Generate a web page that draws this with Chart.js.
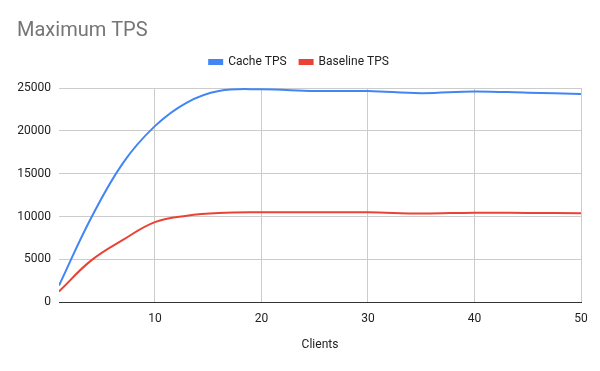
<!DOCTYPE html>
<html>
<head>
<meta charset="utf-8">
<script src="https://cdn.jsdelivr.net/npm/chart.js@4"></script>
<style>
    html, body { margin: 0; padding: 0; background: #fff; }
    #wrap { width: 600px; height: 371px; }
</style>
</head>
<body>
<div id="wrap"><canvas id="tpsChart" width="600" height="371"></canvas></div>
<script>
const clients = [1, 4, 7, 10, 13, 16, 20, 25, 30, 35, 40, 45, 50];
const cacheTps = [1950, 9800, 16240, 20550, 23300, 24650, 24850, 24650, 24650, 24400, 24600, 24450, 24300];
const baselineTps = [1250, 4850, 7270, 9350, 10100, 10420, 10500, 10500, 10500, 10350, 10450, 10420, 10380];
const xTicks = [10, 20, 30, 40, 50];
const yTicks = [0, 5000, 10000, 15000, 20000, 25000];

const font = 'Roboto, Arial, sans-serif';

const toPoints = (values) => values.map((v, i) => ({ x: clients[i], y: v }));

document.addEventListener('DOMContentLoaded', () => {
    const ctx = document.getElementById('tpsChart');

    new Chart(ctx, {
        type: 'line',
        data: {
            datasets: [{
                label: 'Cache TPS',
                data: toPoints(cacheTps),
                borderColor: '#4285f4',
                backgroundColor: '#4285f4',
                borderWidth: 2,
                pointRadius: 0,
                tension: 0.4
            }, {
                label: 'Baseline TPS',
                data: toPoints(baselineTps),
                borderColor: '#ea4335',
                backgroundColor: '#ea4335',
                borderWidth: 2,
                pointRadius: 0,
                tension: 0.4
            }]
        },
        options: {
            responsive: false,
            animation: false,
            layout: { padding: { left: 17, right: 19, top: 0, bottom: 19 } },
            plugins: {
                title: {
                    display: true,
                    text: 'Maximum TPS',
                    align: 'start',
                    color: '#757575',
                    font: { family: font, size: 20, weight: 'normal' },
                    padding: { top: 19, bottom: 0 }
                },
                // empty block under the legend, just for spacing
                subtitle: {
                    display: true,
                    text: ' ',
                    weight: 500,
                    font: { size: 1, lineHeight: 1 },
                    padding: { top: 9, bottom: 0 }
                },
                legend: {
                    labels: {
                        color: '#222',
                        font: { family: font, size: 12 },
                        boxWidth: 13,
                        boxHeight: 4,
                        padding: 13
                    }
                },
                tooltip: { enabled: false }
            },
            scales: {
                x: {
                    type: 'linear',
                    min: 1,
                    max: 50,
                    afterBuildTicks: (axis) => { axis.ticks = xTicks.map(v => ({ value: v })); },
                    grid: { color: '#cccccc', drawTicks: false },
                    border: { color: '#333', width: 1 },
                    ticks: { color: '#222', font: { family: font, size: 12 }, padding: 10, maxRotation: 0 },
                    title: {
                        display: true,
                        text: 'Clients',
                        color: '#222',
                        font: { family: font, size: 12 },
                        padding: { top: 1, bottom: 0 }
                    }
                },
                y: {
                    min: 0,
                    max: 25000,
                    afterBuildTicks: (axis) => { axis.ticks = yTicks.map(v => ({ value: v })); },
                    afterFit: (axis) => { axis.width = 42; }, // labels + gap, like the original
                    grid: {
                        color: (c) => c.tick && c.tick.value === 0 ? '#333' : '#cccccc',
                        drawTicks: false
                    },
                    border: { display: false },
                    ticks: {
                        color: '#222',
                        font: { family: font, size: 12 },
                        padding: 8,
                        callback: (v) => String(v)
                    }
                }
            }
        }
    });
});
</script>
</body>
</html>
